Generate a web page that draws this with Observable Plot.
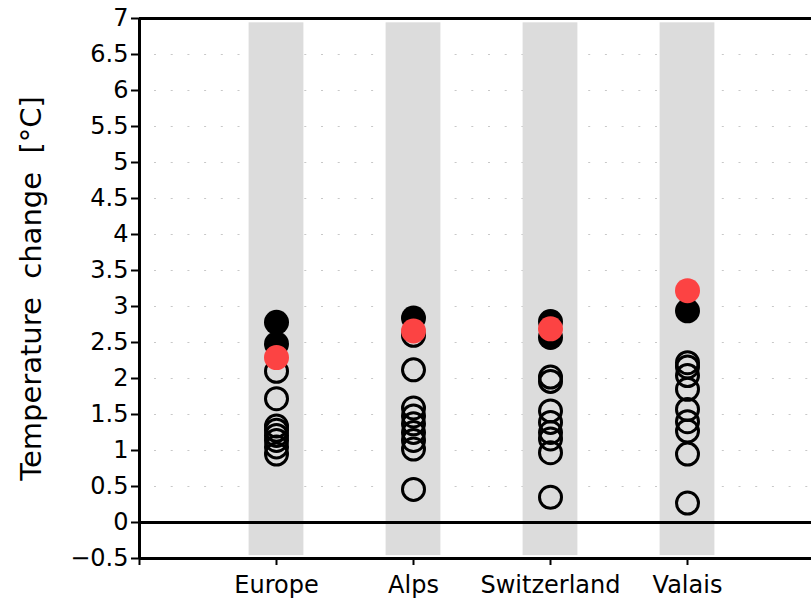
<!DOCTYPE html>
<html>
<head>
<meta charset="utf-8">
<script src="https://cdn.jsdelivr.net/npm/d3@7"></script>
<script src="https://cdn.jsdelivr.net/npm/@observablehq/plot@0.6"></script>
<style>
  html, body { margin: 0; padding: 0; background: white; overflow: hidden; }
  #chart svg { overflow: hidden; }
</style>
</head>
<body>
<div id="chart"></div>
<script>
// ---- data ----
const categories = ["Europe", "Alps", "Switzerland", "Valais"];
const yTitle = "Temperature  change  [\u00B0C]";

// open circles (individual model chains)
const europeOpen = [2.10, 1.72, 1.34, 1.28, 1.21, 1.14, 1.05, 0.95];
const alpsOpen   = [2.60, 2.12, 1.59, 1.48, 1.37, 1.25, 1.14, 1.02, 0.46];
const swissOpen  = [2.02, 1.96, 1.55, 1.39, 1.25, 1.16, 0.97, 0.35];
const valaisOpen = [2.22, 2.16, 2.04, 1.85, 1.57, 1.40, 1.27, 0.95, 0.27];

// filled black circles
const europeBlack = [2.78, 2.48];
const alpsBlack   = [2.84];
const swissBlack  = [2.79, 2.57];
const valaisBlack = [2.94];

// red circles
const redValues = [2.29, 2.66, 2.69, 3.22];

const yTicks = [-0.5, 0, 0.5, 1, 1.5, 2, 2.5, 3, 3.5, 4, 4.5, 5, 5.5, 6, 6.5, 7];
const gridLevels = [0.5, 1, 1.5, 2, 2.5, 3, 3.5, 4, 4.5, 5, 5.5, 6, 6.5];

// ---- tables built from the arrays ----
const openSets = [europeOpen, alpsOpen, swissOpen, valaisOpen];
const blackSets = [europeBlack, alpsBlack, swissBlack, valaisBlack];
const openData = openSets.flatMap((vals, i) => vals.map(v => ({pos: i + 1, value: v})));
const blackData = blackSets.flatMap((vals, i) => vals.map(v => ({pos: i + 1, value: v})));
const redData = redValues.map((v, i) => ({pos: i + 1, value: v}));
const bands = categories.map((c, i) => ({x1: i + 1 - 0.2, x2: i + 1 + 0.2}));

const chart = Plot.plot({
  width: 811,
  height: 600,
  marginLeft: 139,
  marginTop: 18,
  marginBottom: 42,
  marginRight: 0,
  style: {fontFamily: "DejaVu Sans", fontSize: "24px", color: "black", background: "white"},
  x: {type: "linear", domain: [0, 5], range: [139, 824]},
  y: {domain: [-0.5, 7]},
  marks: [
    Plot.ruleY(gridLevels, {x1: 0, x2: 5, stroke: "#c8c8c8", strokeWidth: 1.2, strokeDasharray: "2,14.7", strokeDashoffset: -15}),
    Plot.rectY(bands, {x1: "x1", x2: "x2", y1: -0.46, y2: 6.94, fill: "#dcdcdc"}),
    Plot.ruleY([0], {x1: 0, x2: 5, stroke: "black", strokeWidth: 3}),
    Plot.ruleY([7, -0.5], {x1: 0, x2: 5, stroke: "black", strokeWidth: 3}),
    Plot.ruleX([0], {y1: -0.5, y2: 7, stroke: "black", strokeWidth: 3}),
    Plot.dot(openData, {x: "pos", y: "value", r: 11, stroke: "black", strokeWidth: 3, fill: "none"}),
    Plot.dot(blackData, {x: "pos", y: "value", r: 12.5, fill: "black", stroke: "none"}),
    Plot.dot(redData, {x: "pos", y: "value", r: 12.5, fill: "#fc4343", stroke: "none"}),
    Plot.axisY({
      ticks: yTicks, tickSize: 8, tickPadding: 3, strokeWidth: 2,
      tickFormat: d => (d < 0 ? "\u2212" + Math.abs(d) : String(d)),
      label: null
    }),
    Plot.axisX({
      ticks: [0, 1, 2, 3, 4], tickSize: 7, tickPadding: 10, strokeWidth: 2,
      tickFormat: d => (d === 0 ? "" : categories[d - 1]),
      label: null
    }),
    Plot.text([yTitle], {
      frameAnchor: "left", dx: -108, rotate: -90, fontSize: 29,
      textAnchor: "middle", lineAnchor: "middle",
      fill: "black", ariaLabel: "ytitle"
    })
  ]
});
d3.select(chart).selectAll('g[aria-label="ytitle"] text').attr("letter-spacing", "1.5px");
document.getElementById("chart").appendChild(chart);
</script>
</body>
</html>
